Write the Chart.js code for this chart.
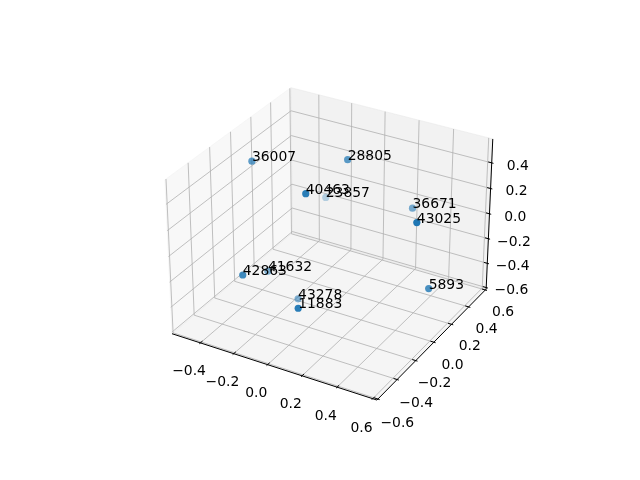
<!DOCTYPE html>
<html>
<head>
<meta charset="utf-8">
<script src="https://cdn.jsdelivr.net/npm/chart.js@4.4.0/dist/chart.umd.min.js"></script>
<style>html,body{margin:0;background:#fff}#c{display:block}</style>
</head>
<body>
<canvas id="c" width="640" height="480"></canvas>
<script>
(function(){
  // points (x, y, z) and their text labels
  const LABELS = ['36007','28805','40463','23857','36671','43025','42863','41632','5893','43278','11883'];
  const XS = [-0.41, 0.01, 0.03, -0.33, 0.28, 0.57, -0.21, -0.32, 0.58, -0.15, 0.14];
  const YS = [-0.06, 0.19, -0.27, 0.56, 0.40, -0.12, -0.49, -0.07, 0.01, -0.05, -0.54];
  const ZS = [0.45, 0.46, 0.49, -0.19, 0.05, 0.38, -0.08, -0.38, -0.21, -0.55, -0.16];

  // axes
  const X_TICKS = [-0.4, -0.2, 0.0, 0.2, 0.4, 0.6];
  const Y_TICKS = [-0.6, -0.4, -0.2, 0.0, 0.2, 0.4, 0.6];
  const Z_TICKS = [-0.6, -0.4, -0.2, 0.0, 0.2, 0.4];
  const XLIM = [-0.573, 0.623], YLIM = [-0.61, 0.61], ZLIM = [-0.613, 0.584];

  // camera (elev/azim like a default 3d axes), screen centre & zoom
  const ELEV = 30, AZIM = -60, DIST = 10;
  const CX = 332, CY = 236.6, K = 2078, W = 640, H = 480;
  const FONT = '13.9px "DejaVu Sans", sans-serif';
  const BLUE = [31,119,180];

  const BOX = [4,4,3].map(v => v*1.8294640721620434/Math.hypot(4,4,3));
  const e = ELEV*Math.PI/180, a = AZIM*Math.PI/180;
  const N = [Math.cos(e)*Math.cos(a), Math.cos(e)*Math.sin(a), Math.sin(e)];
  let U = [-N[1], N[0], 0];
  const ul = Math.hypot(U[0], U[1]); U = U.map(c => c/ul);
  const V = [N[1]*U[2]-N[2]*U[1], N[2]*U[0]-N[0]*U[2], N[0]*U[1]-N[1]*U[0]];

  function proj(x, y, z){
    const q = [
      (x-XLIM[0])/(XLIM[1]-XLIM[0])*BOX[0] - BOX[0]/2,
      (y-YLIM[0])/(YLIM[1]-YLIM[0])*BOX[1] - BOX[1]/2,
      (z-ZLIM[0])/(ZLIM[1]-ZLIM[0])*BOX[2] - BOX[2]/2
    ];
    const dot = A => A[0]*q[0]+A[1]*q[1]+A[2]*q[2];
    const w = DIST - dot(N);
    return {x: dot(U)/w, y: dot(V)/w, depth: w};
  }

  const [x0,x1] = XLIM, [y0,y1] = YLIM, [z0,z1] = ZLIM;
  const dx = (x1-x0)/12, dy = (y1-y0)/12;

  function seg(p, q, color, width, order){
    const A = proj(...p), B = proj(...q);
    return {type:'scatter', data:[{x:A.x,y:A.y},{x:B.x,y:B.y}], showLine:true,
      borderColor:color, borderWidth:width, pointRadius:0, pointHoverRadius:0, order, clip:false};
  }

  const GRID = '#b0b0b0', datasets = [];
  X_TICKS.forEach(t => {
    datasets.push(seg([t,y0,z0],[t,y1,z0],GRID,0.8,3));
    datasets.push(seg([t,y1,z0],[t,y1,z1],GRID,0.8,3));
    datasets.push(seg([t,y0-0.1*dy,z0],[t,y0+0.2*dy,z0],'#000',1,2));
  });
  Y_TICKS.forEach(t => {
    datasets.push(seg([x0,t,z0],[x1,t,z0],GRID,0.8,3));
    datasets.push(seg([x0,t,z0],[x0,t,z1],GRID,0.8,3));
    datasets.push(seg([x1+0.1*dx,t,z0],[x1-0.2*dx,t,z0],'#000',1,2));
  });
  Z_TICKS.forEach(t => {
    datasets.push(seg([x0,y0,t],[x0,y1,t],GRID,0.8,3));
    datasets.push(seg([x0,y1,t],[x1,y1,t],GRID,0.8,3));
    datasets.push(seg([x1+0.1*dx,y1,t],[x1-0.2*dx,y1,t],'#000',1,2));
  });
  datasets.push(seg([x0,y0,z0],[x1,y0,z0],'#000',1,2));
  datasets.push(seg([x1,y0,z0],[x1,y1,z0],'#000',1,2));
  datasets.push(seg([x1,y1,z0],[x1,y1,z1],'#000',1,2));

  // scatter points, far ones first, depth-shaded
  const P = XS.map((x,i) => proj(x, YS[i], ZS[i]));
  const dMin = Math.min(...P.map(p=>p.depth)), dMax = Math.max(...P.map(p=>p.depth));
  const idx = P.map((_,i)=>i).sort((i,j)=>P[j].depth-P[i].depth);
  datasets.push({
    type:'scatter',
    data: idx.map(i => ({x:P[i].x, y:P[i].y})),
    pointBackgroundColor: idx.map(i => {
      const al = 1 - 0.7*(P[i].depth-dMin)/(dMax-dMin);
      return `rgba(${BLUE.join(',')},${al.toFixed(3)})`;
    }),
    pointBorderWidth:0, pointRadius:3.6, pointHoverRadius:3.6, showLine:false, order:0, clip:false
  });

  const fmt = v => (v<0?'\u2212':'') + Math.abs(v).toFixed(1);

  const panes = {
    id:'panes',
    beforeDatasetsDraw(chart){
      const {ctx, scales:{x:sx, y:sy}} = chart;
      const poly = (pts, col) => {
        ctx.beginPath();
        pts.forEach((p,k) => { const r = proj(...p); const X = sx.getPixelForValue(r.x), Y = sy.getPixelForValue(r.y); k?ctx.lineTo(X,Y):ctx.moveTo(X,Y); });
        ctx.closePath(); ctx.fillStyle = col; ctx.fill(); ctx.strokeStyle = col; ctx.lineWidth = 1; ctx.stroke();
      };
      ctx.save();
      poly([[x0,y0,z0],[x0,y1,z0],[x0,y1,z1],[x0,y0,z1]], 'rgba(242,242,242,0.5)');
      poly([[x0,y1,z0],[x1,y1,z0],[x1,y1,z1],[x0,y1,z1]], 'rgba(230,230,230,0.5)');
      poly([[x0,y0,z0],[x1,y0,z0],[x1,y1,z0],[x0,y1,z0]], 'rgba(236,236,236,0.5)');
      ctx.restore();
    },
    afterDatasetsDraw(chart){
      const {ctx, scales:{x:sx, y:sy}} = chart;
      const at = (x,y,z) => { const r = proj(x,y,z); return [sx.getPixelForValue(r.x), sy.getPixelForValue(r.y)]; };
      ctx.save();
      ctx.font = FONT; ctx.fillStyle = '#000';
      ctx.textAlign = 'center'; ctx.textBaseline = 'middle';
      X_TICKS.forEach(t => ctx.fillText(fmt(t), ...at(t, y0-0.113, z0-0.143)));
      Y_TICKS.forEach(t => ctx.fillText(fmt(t), ...at(x1+0.109, t, z0-0.138)));
      Z_TICKS.forEach(t => ctx.fillText(fmt(t), ...at(x1+0.13, y1+0.037, t)));
      ctx.textAlign = 'left'; ctx.textBaseline = 'alphabetic';
      LABELS.forEach((s,i) => ctx.fillText(s, ...at(XS[i], YS[i], ZS[i])));
      ctx.restore();
    }
  };

  new Chart(document.getElementById('c'), {
    type:'scatter',
    data:{datasets},
    options:{
      responsive:false, animation:false, events:[],
      layout:{padding:0},
      plugins:{legend:{display:false}, tooltip:{enabled:false}},
      scales:{
        x:{type:'linear', display:false, min:-CX/K, max:(W-CX)/K},
        y:{type:'linear', display:false, min:-(H-CY)/K, max:CY/K}
      }
    },
    plugins:[panes]
  });
})();
</script>
</body>
</html>
